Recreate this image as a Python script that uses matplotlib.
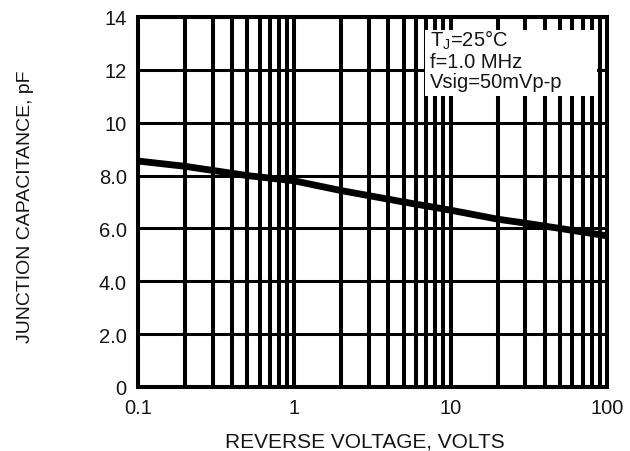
import numpy as np
import matplotlib
matplotlib.use('Agg')
import matplotlib.pyplot as plt
from matplotlib.ticker import LogLocator, FixedLocator, FixedFormatter, NullFormatter
from matplotlib.patches import Rectangle

plt.rcParams['font.family'] = ['Liberation Sans', 'DejaVu Sans']

# values
voltage = [0.1, 0.2, 0.5, 1, 2, 3, 5, 10, 20, 30, 50, 100]
capacitance = [8.55, 8.35, 8.0, 7.8, 7.43, 7.24, 7.0, 6.69, 6.35, 6.2, 6.0, 5.72]

x_ticks = [0.1, 1, 10, 100]
x_tick_labels = ['0.1', '1', '10', '100']
y_ticks = [0, 2, 4, 6, 8, 10, 12, 14]
y_tick_labels = ['0', '2.0', '4.0', '6.0', '8.0', '10', '12', '14']
conditions = [r'T$_\mathregular{J}$=25°C', 'f=1.0 MHz', 'Vsig=50mVp-p']

fig = plt.figure(figsize=(6.3, 4.52), dpi=100)
ax = fig.add_axes([0.219, 0.1416, 0.7444, 0.8186])

ax.set_xscale('log')
ax.set_xlim(0.1, 100)
ax.set_ylim(0, 14)

# grid: every minor decade line, plus the horizontal lines
ax.xaxis.set_major_locator(FixedLocator(x_ticks))
ax.xaxis.set_major_formatter(FixedFormatter(x_tick_labels))
ax.xaxis.set_minor_locator(LogLocator(base=10, subs=np.arange(2, 10)))
ax.xaxis.set_minor_formatter(NullFormatter())
ax.yaxis.set_major_locator(FixedLocator(y_ticks))
ax.yaxis.set_major_formatter(FixedFormatter(y_tick_labels))

ax.grid(True, which='both', axis='x', color='black', linewidth=2.9)
ax.grid(True, which='major', axis='y', color='black', linewidth=2.2)

ax.tick_params(which='both', length=0, labelsize=14.5, labelcolor='#151515', pad=8)

for s in ax.spines.values():
    s.set_linewidth(2.9)
    s.set_color('black')

ax.plot(voltage, capacitance, color='black', linewidth=4.9, solid_capstyle='butt', zorder=4)

# condition box covers the grid
ax.add_patch(Rectangle((0.612, 0.786), 0.367, 0.178, transform=ax.transAxes,
                       facecolor='white', edgecolor='none', zorder=2.5))
for txt, yy in zip(conditions, [0.9216, 0.8649, 0.8108]):
    ax.text(0.6226, yy, txt, transform=ax.transAxes, fontsize=14.5,
            color='#151515', va='baseline', ha='left', zorder=3)

ax.set_xlabel('REVERSE VOLTAGE, VOLTS', fontsize=15, color='#151515')
ax.set_ylabel('JUNCTION CAPACITANCE, pF', fontsize=14, color='#151515')
ax.xaxis.set_label_coords(0.484, -0.12)
ax.yaxis.set_label_coords(-0.222, 0.489)

fig.savefig('out.png', dpi=100, facecolor='white')
